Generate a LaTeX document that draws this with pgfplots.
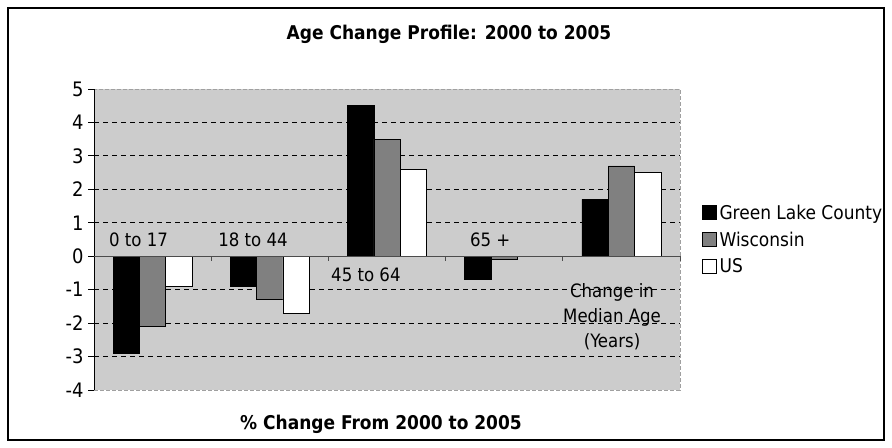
\documentclass[border=0pt]{standalone}
\usepackage{fontspec}
\setmainfont{DejaVu Sans Condensed}
\usepackage{pgfplots}
\pgfplotsset{compat=1.18}
\definecolor{plotbg}{RGB}{204,204,204}
\definecolor{wigray}{RGB}{128,128,128}
\definecolor{bordergray}{RGB}{160,160,160}
\begin{document}
\begin{tikzpicture}[x=1bp,y=1bp]
\useasboundingbox (0,0) rectangle (892,448);
\fill[white] (0,0) rectangle (892,448);
\draw[line width=1.2bp] (8,8) rectangle (884,440);
\node[font=\bfseries\fontsize{19}{22}\selectfont] at (449,414) {Age Change Profile: 2000 to 2005};
\node[font=\bfseries\fontsize{19}{22}\selectfont] at (381,24) {\% Change From 2000 to 2005};
\begin{axis}[at={(94bp,58bp)}, anchor=south west, scale only axis,
 width=586bp, height=301bp,
 xmin=-0.5, xmax=4.5, ymin=-4, ymax=5,
 ybar=0pt, bar width=26.3bp,
 axis line style={draw=none},
 axis background/.style={fill=plotbg},
 xtick=\empty,
 ytick={-3,-2,-1,1,2,3,4},
 extra y ticks={-4,0,5},
 extra y tick style={grid=none},
 ymajorgrids,
 grid style={black, dash pattern=on 5bp off 4bp, line width=0.9bp},
 ytick pos=left, tick align=outside, major tick length=6bp,
 ytick style={black, line width=0.8bp},
 /pgf/number format/assume math mode=true,
 yticklabel style={font=\fontsize{20}{23}\selectfont, xshift=-1bp},
 legend style={at={(1.032,0.5)}, anchor=west, draw=none, fill=none,
   font=\fontsize{19}{22}\selectfont, row sep=5bp,
   nodes={inner sep=3bp}},
 legend cell align=left,
 legend image code/.code={\draw[#1, line width=0.6bp] (0bp,-7bp) rectangle (14bp,7bp);},
 clip=false,
]
\addplot[fill=black, draw=black, line width=0.6bp] coordinates {(0,-2.9) (1,-0.9) (2,4.5) (3,-0.7) (4,1.7)};
\addplot[fill=wigray, draw=black, line width=0.6bp] coordinates {(0,-2.1) (1,-1.3) (2,3.5) (3,-0.1) (4,2.7)};
\addplot[fill=white, draw=black, line width=0.6bp] coordinates {(0,-0.9) (1,-1.7) (2,2.6) (3,0) (4,2.5)};
\legend{Green Lake County, Wisconsin, US}
\draw[bordergray, dash pattern=on 4bp off 2bp, line width=0.8bp] (rel axis cs:0,0) -- (rel axis cs:1,0) -- (rel axis cs:1,1) -- (rel axis cs:0,1);
\draw[black, line width=0.8bp] (rel axis cs:0,0) -- (rel axis cs:0,1);
\draw[black!70, line width=0.8bp] (axis cs:-0.5,0) -- (axis cs:4.5,0);
\pgfplotsinvokeforeach{0.5,1.5,2.5,3.5,4.5}{\draw[black!70, line width=0.8bp] (axis cs:#1,0) -- ([yshift=-5bp]axis cs:#1,0);}
\node[font=\fontsize{18.5}{22}\selectfont] at (axis cs:-0.12,0.48) {0 to 17};
\node[font=\fontsize{18.5}{22}\selectfont] at (axis cs:0.857,0.48) {18 to 44};
\node[font=\fontsize{18.5}{22}\selectfont] at (axis cs:1.82,-0.57) {45 to 64};
\node[font=\fontsize{18.5}{22}\selectfont] at (axis cs:2.88,0.48) {65 +};
\node[font=\fontsize{18.5}{25}\selectfont, align=center] at (axis cs:3.92,-1.82) {Change in\\Median Age\\(Years)};
\end{axis}
\end{tikzpicture}
\end{document}
